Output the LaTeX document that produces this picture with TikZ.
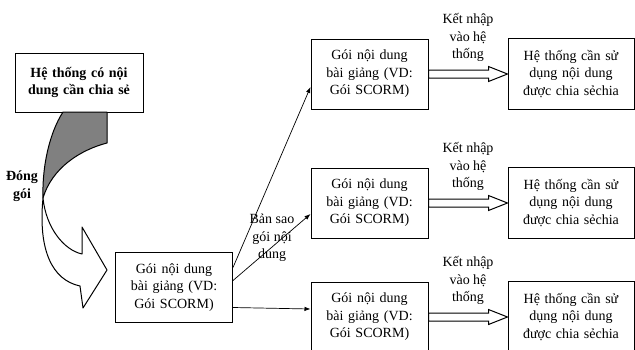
\documentclass[tikz,border=0pt]{standalone}
\usepackage{fontspec}
\setmainfont{Liberation Serif}
\usepackage{tikz}
\usetikzlibrary{arrows.meta,positioning,calc}
\definecolor{ribbongray}{RGB}{128,128,128}
\newcommand{\diagfont}{\fontsize{14}{17.5}\selectfont}
\tikzset{
  sharebox/.style={
    draw,
    line width=1pt,
    align=center,
    minimum width=128pt,
    minimum height=59pt,
    text width=112pt,
    inner sep=0pt,
    font=\diagfont\bfseries
  },
  pkgbox/.style={
    draw,
    line width=1pt,
    align=center,
    minimum width=117pt,
    minimum height=70pt,
    text width=106pt,
    inner sep=0pt,
    font=\diagfont
  },
  sysbox/.style={
    pkgbox,
    minimum width=126pt,
    minimum height=71pt,
    text width=118pt
  },
  lbl/.style={
    align=center,
    inner sep=1pt,
    font=\diagfont
  },
  ribbon/.style={draw, line width=1pt, line join=round},
  arr/.style={-{Latex[length=6pt,width=4.5pt]}, line width=0.7pt},
  hollowarr/.style={
    draw, fill=white, line width=1pt,
    to path={let \p1=(\tikztostart), \p2=(\tikztotarget) in
      (\x1,\y1+4pt) -- (\x2-19pt,\y1+4pt) -- (\x2-19pt,\y1+7.5pt) -- (\x2,\y1)
      -- (\x2-19pt,\y1-7.5pt) -- (\x2-19pt,\y1-4pt) -- (\x1,\y1-4pt) -- cycle}
  }
}

\begin{document}
\begin{tikzpicture}[x=1pt,y=-1pt]
  \useasboundingbox (0,0) rectangle (635,349);
  \clip (0,0) rectangle (635,349);

  % source system and the packaged content
  \node[sharebox] (src) at (79,82.5) {Hệ thống có nội\\dung cần chia sẻ};
  \node[pkgbox] (pkg) at (174,287.5) {Gói nội dung\\bài giảng (VD:\\Gói SCORM)};

  % copies of the package
  \node[pkgbox] (cp1) at (369.5,74) {Gói nội dung\\bài giảng (VD:\\Gói SCORM)};
  \node[pkgbox,below=58pt of cp1] (cp2) {Gói nội dung\\bài giảng (VD:\\Gói SCORM)};
  \node[pkgbox,below=43pt of cp2] (cp3) {Gói nội dung\\bài giảng (VD:\\Gói SCORM)};

  % target systems
  \node[sysbox,right=79pt of cp1] (use1) {Hệ thống cần sử\\dụng nội dung\\được chia sẻchia};
  \node[sysbox,right=79pt of cp2] (use2) {Hệ thống cần sử\\dụng nội dung\\được chia sẻchia};
  \node[sysbox,right=79pt of cp3] (use3) {Hệ thống cần sử\\dụng nội dung\\được chia sẻchia};

  % twisted packaging arrow
  \coordinate (twist) at (43,198);
  \filldraw[ribbon,fill=ribbongray] (63,112) -- (107,112) -- (107,143)
    .. controls (80,150) and (52,168) .. (twist)
    .. controls (42,165) and (50,132) .. (63,112) -- cycle;
  \filldraw[ribbon,fill=white] (twist) .. controls (46,228) and (64,250) .. (82,254)
    -- (82,227) -- (107,270) -- (83,308) -- (80,286)
    .. controls (52,280) and (38,250) .. (twist) -- cycle;
  \node[lbl,font=\diagfont\bfseries] (packlbl) at (22,186) {Đóng\\gói};

  % copying
  \draw[arr] ([yshift=20pt]pkg.east) -- ([yshift=-13pt]cp1.west);
  \draw[arr] ([yshift=7pt]pkg.east) -- ([yshift=-11pt]cp2.west);
  \draw[arr] ([yshift=-20pt]pkg.east) -- ([yshift=8pt]cp3.west);
  \node[lbl] (copylbl) at (272,238) {Bản sao\\gói nội\\dung};

  % integration
  \draw[hollowarr] (cp1.east) to (use1.west);
  \draw[hollowarr] (cp2.east) to (use2.west);
  \draw[hollowarr] (cp3.east) to (use3.west);
  \path (cp1.east) -- node[lbl,above=11pt] (intlbl1) {Kết nhập\\vào hệ\\thống} (use1.west);
  \path (cp2.east) -- node[lbl,above=11pt] (intlbl2) {Kết nhập\\vào hệ\\thống} (use2.west);
  \path (cp3.east) -- node[lbl,above=11pt] (intlbl3) {Kết nhập\\vào hệ\\thống} (use3.west);
\end{tikzpicture}
\end{document}
